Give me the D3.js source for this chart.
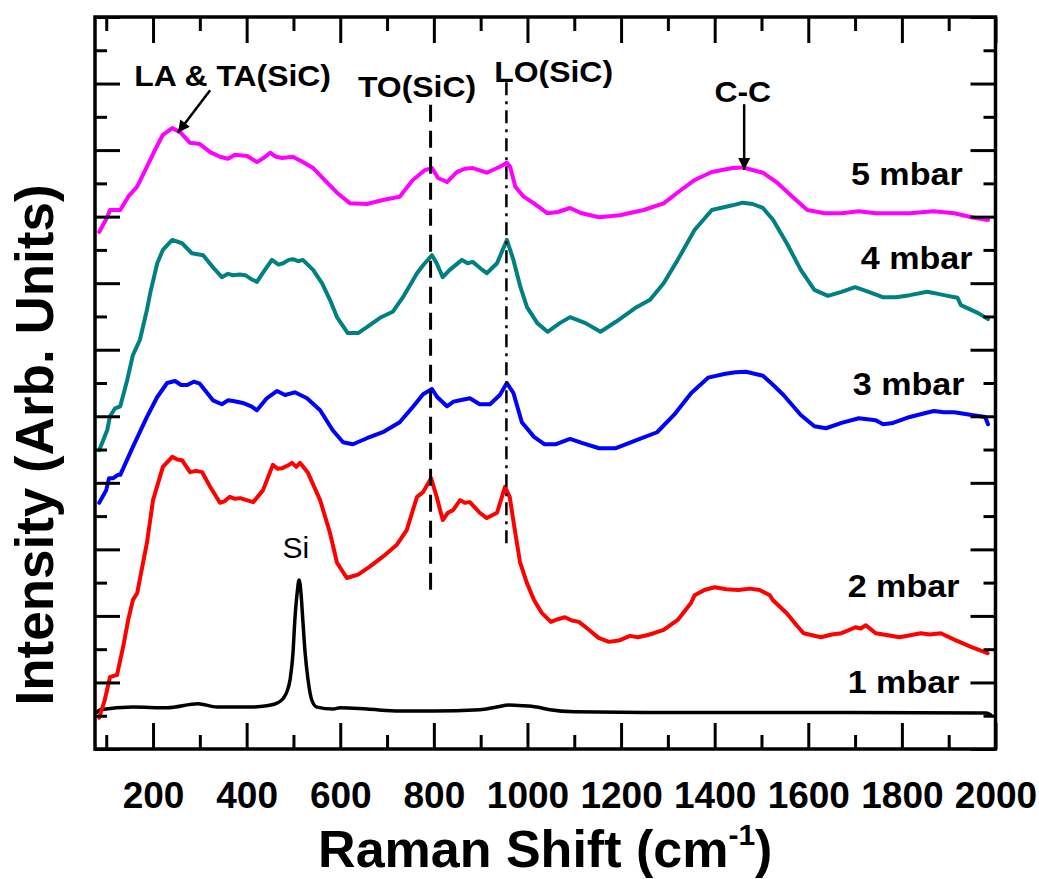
<!DOCTYPE html>
<html>
<head>
<meta charset="utf-8">
<script src="https://cdn.jsdelivr.net/npm/d3@7"></script>
<style>
body { margin: 0; background: #ffffff; }
svg text { font-family: "Liberation Sans", Arial, sans-serif; }
</style>
</head>
<body>
<script>
// Raman spectra, [shift cm-1, intensity (arb.)]
const spec_1mbar = [[80,0.55],[87,0.59],[157,0.63],[230,0.62],[296,0.68],[337,0.63],[407,0.63],[443,0.65],[465,0.69],[478,0.76],[486,0.86],[493,1.05],[499,1.44],[503,1.94],[508,2.35],[512,2.54],[516,2.35],[520,1.94],[525,1.44],[531,1.05],[539,0.74],[550,0.63],[585,0.60],[600,0.62],[657,0.60],[728,0.57],[798,0.57],[898,0.59],[934,0.63],[960,0.66],[990,0.65],[1020,0.63],[1048,0.59],[1100,0.56],[1250,0.55],[1680,0.55],[1980,0.54],[1990,0.51]];

const spec_2mbar = [[85,0.47],[97,0.74],[108,1.08],[116,1.10],[123,1.11],[136,1.53],[147,1.94],[157,2.24],[166,2.34],[187,3.10],[200,3.74],[221,4.24],[241,4.39],[252,4.35],[262,4.34],[279,4.16],[292,4.18],[305,4.16],[322,3.94],[343,3.70],[352,3.72],[364,3.79],[375,3.76],[386,3.77],[400,3.74],[414,3.71],[435,3.89],[456,4.27],[466,4.21],[476,4.22],[488,4.26],[497,4.30],[506,4.24],[514,4.30],[531,4.15],[557,3.74],[578,3.25],[593,2.80],[614,2.57],[628,2.60],[638,2.62],[663,2.74],[691,2.89],[721,3.07],[742,3.29],[764,3.79],[777,3.86],[794,4.07],[806,3.79],[819,3.44],[830,3.55],[841,3.59],[856,3.74],[866,3.70],[877,3.71],[898,3.55],[913,3.47],[935,3.55],[952,3.94],[962,3.79],[973,3.29],[984,2.81],[999,2.49],[1014,2.24],[1030,2.05],[1050,1.91],[1065,1.95],[1080,1.98],[1095,1.93],[1110,1.91],[1130,1.80],[1152,1.67],[1174,1.61],[1195,1.63],[1219,1.70],[1236,1.68],[1255,1.71],[1270,1.74],[1291,1.79],[1321,1.94],[1349,2.19],[1357,2.31],[1378,2.39],[1400,2.43],[1425,2.40],[1451,2.39],[1475,2.41],[1496,2.39],[1518,2.31],[1524,2.24],[1554,2.04],[1575,1.86],[1590,1.74],[1627,1.68],[1650,1.72],[1671,1.74],[1701,1.83],[1712,1.81],[1723,1.86],[1744,1.74],[1770,1.71],[1795,1.68],[1818,1.71],[1840,1.74],[1860,1.72],[1883,1.74],[1913,1.64],[1949,1.53],[1983,1.44]];

const spec_3mbar = [[85,3.70],[100,3.89],[106,4.07],[115,4.07],[125,4.12],[130,4.12],[157,4.54],[187,4.99],[209,5.29],[230,5.50],[247,5.53],[260,5.47],[273,5.47],[287,5.52],[300,5.49],[328,5.24],[347,5.18],[360,5.24],[371,5.23],[392,5.20],[410,5.15],[422,5.09],[443,5.27],[465,5.38],[482,5.32],[503,5.36],[529,5.27],[557,5.09],[584,4.79],[606,4.61],[627,4.58],[657,4.67],[691,4.76],[727,4.91],[755,5.14],[777,5.33],[796,5.41],[807,5.29],[828,5.15],[842,5.22],[856,5.24],[877,5.27],[898,5.18],[920,5.18],[941,5.32],[956,5.50],[970,5.35],[988,4.91],[1014,4.69],[1036,4.58],[1061,4.58],[1091,4.66],[1116,4.60],[1153,4.52],[1189,4.52],[1233,4.64],[1277,4.76],[1313,5.02],[1350,5.35],[1386,5.58],[1423,5.64],[1445,5.66],[1467,5.67],[1485,5.64],[1503,5.61],[1525,5.47],[1547,5.32],[1584,5.02],[1613,4.85],[1638,4.82],[1671,4.90],[1708,4.97],[1744,4.94],[1760,4.88],[1781,4.90],[1817,4.99],[1840,5.03],[1868,5.08],[1890,5.06],[1912,5.06],[1949,5.02],[1978,4.99],[1984,4.88]];

const spec_4mbar = [[85,4.49],[102,4.79],[108,5.00],[119,5.12],[130,5.15],[145,5.55],[157,5.92],[172,6.15],[187,6.60],[194,6.85],[209,7.30],[221,7.50],[241,7.65],[262,7.60],[283,7.45],[307,7.42],[328,7.24],[347,7.09],[360,7.14],[371,7.12],[385,7.13],[397,7.12],[410,7.06],[422,7.02],[439,7.20],[454,7.35],[468,7.28],[478,7.30],[490,7.35],[499,7.36],[510,7.33],[520,7.35],[542,7.20],[561,7.00],[578,6.75],[593,6.49],[616,6.25],[638,6.25],[657,6.34],[685,6.48],[712,6.57],[734,6.79],[764,7.15],[777,7.27],[796,7.42],[806,7.30],[819,7.09],[834,7.20],[860,7.35],[872,7.30],[883,7.32],[900,7.22],[913,7.15],[935,7.30],[956,7.65],[970,7.35],[985,6.94],[999,6.64],[1021,6.40],[1043,6.27],[1069,6.40],[1091,6.49],[1124,6.40],[1156,6.27],[1189,6.42],[1233,6.64],[1262,6.75],[1291,7.00],[1321,7.35],[1357,7.80],[1394,8.10],[1438,8.17],[1460,8.21],[1481,8.19],[1503,8.13],[1525,7.95],[1554,7.60],[1584,7.20],[1613,6.90],[1642,6.81],[1671,6.87],[1700,6.94],[1729,6.87],[1759,6.79],[1788,6.79],[1817,6.82],[1854,6.87],[1870,6.85],[1890,6.82],[1919,6.78],[1926,6.67],[1963,6.55],[1984,6.46]];

const spec_5mbar = [[85,7.77],[102,7.99],[108,8.10],[115,8.10],[130,8.10],[147,8.30],[166,8.45],[187,8.75],[204,9.00],[221,9.23],[241,9.33],[258,9.27],[279,9.11],[300,9.09],[322,8.97],[343,8.90],[360,8.87],[375,8.93],[401,8.91],[422,8.82],[440,8.90],[450,8.96],[463,8.90],[476,8.88],[499,8.90],[520,8.82],[542,8.73],[567,8.55],[593,8.36],[621,8.20],[657,8.19],[691,8.25],[727,8.30],[755,8.55],[781,8.70],[796,8.73],[809,8.58],[828,8.52],[849,8.67],[866,8.72],[883,8.73],[913,8.66],[941,8.75],[956,8.81],[963,8.75],[974,8.45],[992,8.30],[1014,8.20],[1043,8.05],[1065,8.07],[1091,8.13],[1116,8.05],[1153,7.99],[1197,8.02],[1248,8.10],[1291,8.20],[1328,8.40],[1357,8.55],[1394,8.67],[1438,8.73],[1460,8.74],[1481,8.70],[1503,8.66],[1532,8.52],[1569,8.28],[1598,8.10],[1635,8.05],[1671,8.05],[1708,8.08],[1744,8.05],[1781,8.05],[1817,8.05],[1868,8.08],[1912,8.05],[1949,7.99],[1984,7.95]];

const series_list = [spec_1mbar, spec_2mbar, spec_3mbar, spec_4mbar, spec_5mbar];
const series_names = ["1 mbar", "2 mbar", "3 mbar", "4 mbar", "5 mbar"];

// axis ticks
const x_major_ticks = [200, 400, 600, 800, 1000, 1200, 1400, 1600, 1800, 2000];
const x_minor_ticks = [100, 300, 500, 700, 900, 1100, 1300, 1500, 1700, 1900];
const y_major_ticks = [0, 1, 2, 3, 4, 5, 6, 7, 8, 9, 10, 11];
const y_minor_ticks = [0.5, 1.5, 2.5, 3.5, 4.5, 5.5, 6.5, 7.5, 8.5, 9.5, 10.5];

// mode positions (cm-1)
const peak_TO = 793;
const peak_LO = 955;
const peak_CC = 1463;


class RamanChart {
    constructor(width = 1039, height = 879) {
        this.total_width = width;
        this.total_height = height;
        this.margin = { top: 17, right: 43.5, bottom: 130, left: 95 };
        this.graph_width = this.total_width - this.margin.left - this.margin.right;
        this.graph_height = this.total_height - this.margin.top - this.margin.bottom;
        this.colors = ["#000000", "#ff0000", "#0000ff", "#008080", "#ff00ff"];
        this.svg_container = null;
        this.inner_graph = null;
    }

    construct_svg(self = this) {
        self.svg_container = d3.select("body").append("svg")
            .attr("width", self.total_width)
            .attr("height", self.total_height);
        self.svg_container.append("rect")
            .attr("width", self.total_width)
            .attr("height", self.total_height)
            .attr("fill", "#ffffff");
        self.inner_graph = self.svg_container.append("g")
            .attr("transform", "translate(" + self.margin.left + "," + self.margin.top + ")");

        var defs = self.svg_container.append("defs");
        defs.append("marker")
            .attr("id", "head")
            .attr("viewBox", "0 0 10 10")
            .attr("refX", 10).attr("refY", 5)
            .attr("markerWidth", 17).attr("markerHeight", 12)
            .attr("markerUnits", "userSpaceOnUse")
            .attr("orient", "auto")
            .append("path")
            .attr("d", "M0,0 L10,5 L0,10 Z")
            .attr("fill", "#000");
    }

    construct_scales(self = this) {
        self.x = d3.scaleLinear().domain([76, 2000]).range([0, self.graph_width]);
        self.y = d3.scaleLinear().domain([0, 11]).range([self.graph_height, 0]);
    }

    style_axis(g) {
        g.select(".domain").remove();
        g.selectAll(".tick line").attr("stroke", "#000").attr("stroke-width", 3);
    }

    construct_axes(self = this) {
        var x = self.x, y = self.y, g = self.inner_graph;
        var h = self.graph_height, w = self.graph_width;

        var bottom = g.append("g").attr("class", "x_axis")
            .attr("transform", "translate(0," + h + ")")
            .call(d3.axisBottom(x).tickValues(x_major_ticks).tickFormat(d3.format("d"))
                .tickSizeInner(-26).tickSizeOuter(0).tickPadding(33));
        self.style_axis(bottom);
        bottom.selectAll("text")
            .attr("font-size", 37).attr("font-weight", "bold").attr("fill", "#000");

        g.append("g").attr("transform", "translate(0," + h + ")")
            .call(d3.axisBottom(x).tickValues(x_minor_ticks).tickSizeInner(-14).tickSizeOuter(0).tickFormat(""))
            .call(self.style_axis);

        g.append("g")
            .call(d3.axisTop(x).tickValues(x_major_ticks).tickSizeInner(-26).tickSizeOuter(0).tickFormat(""))
            .call(self.style_axis);
        g.append("g")
            .call(d3.axisTop(x).tickValues(x_minor_ticks).tickSizeInner(-14).tickSizeOuter(0).tickFormat(""))
            .call(self.style_axis);

        g.append("g")
            .call(d3.axisLeft(y).tickValues(y_major_ticks).tickSizeInner(-25).tickSizeOuter(0).tickFormat(""))
            .call(self.style_axis);
        g.append("g")
            .call(d3.axisLeft(y).tickValues(y_minor_ticks).tickSizeInner(-12).tickSizeOuter(0).tickFormat(""))
            .call(self.style_axis);

        g.append("g").attr("transform", "translate(" + w + ",0)")
            .call(d3.axisRight(y).tickValues(y_major_ticks).tickSizeInner(-25).tickSizeOuter(0).tickFormat(""))
            .call(self.style_axis);
        g.append("g").attr("transform", "translate(" + w + ",0)")
            .call(d3.axisRight(y).tickValues(y_minor_ticks).tickSizeInner(-12).tickSizeOuter(0).tickFormat(""))
            .call(self.style_axis);

        // frame
        g.append("rect")
            .attr("width", w).attr("height", h)
            .attr("fill", "none").attr("stroke", "#000").attr("stroke-width", 3.5);

        // axis titles
        var xt = self.svg_container.append("text")
            .attr("x", self.margin.left + w / 2).attr("y", 867)
            .attr("text-anchor", "middle")
            .attr("font-size", 52).attr("font-weight", "bold");
        xt.append("tspan").text("Raman Shift (cm");
        xt.append("tspan").attr("font-size", 30).attr("dy", -22).text("-1");
        xt.append("tspan").attr("dy", 22).text(")");

        self.svg_container.append("text")
            .attr("transform", "translate(53,445) rotate(-90)")
            .attr("text-anchor", "middle")
            .attr("font-size", 53).attr("font-weight", "bold")
            .text("Intensity (Arb. Units)");
    }

    construct_lines(self = this) {
        var x = self.x, y = self.y;
        var smooth = d3.line().x(d => x(d[0])).y(d => y(d[1])).curve(d3.curveMonotoneX);
        var raw = d3.line().x(d => x(d[0])).y(d => y(d[1]));
        self.inner_graph.selectAll(".spectrum")
            .data(series_list)
            .enter().append("path")
            .attr("class", "spectrum")
            .attr("d", (d, i) => i == 0 ? smooth(d) : raw(d))
            .attr("fill", "none")
            .attr("stroke", (d, i) => self.colors[i])
            .attr("stroke-width", (d, i) => i == 0 ? 3.5 : 4)
            .attr("stroke-linejoin", "round")
            .attr("stroke-linecap", "round");
    }

    label(txt, cx, cy, size, anchor, sx = 1.1, weight = "bold") {
        this.inner_graph.append("text")
            .attr("transform", "translate(" + this.x(cx) + "," + this.y(cy) + ") scale(" + sx + ",1)")
            .attr("text-anchor", anchor)
            .attr("font-size", size).attr("font-weight", weight)
            .attr("fill", "#000")
            .text(txt);
    }

    construct_annotations(self = this) {
        var x = self.x, y = self.y, g = self.inner_graph;

        // series names on the right
        var name_pos = [[1923, 0.84], [1923, 2.28], [1934, 5.32], [1951, 7.22], [1930, 8.48]];
        series_names.forEach((n, i) => self.label(n, name_pos[i][0], name_pos[i][1], 31, "end"));

        // mode guides
        g.append("line")
            .attr("x1", x(peak_TO)).attr("x2", x(peak_TO))
            .attr("y1", y(9.68)).attr("y2", y(2.31))
            .attr("stroke", "#000").attr("stroke-width", 3)
            .attr("stroke-dasharray", "17,9");
        g.append("line")
            .attr("x1", x(peak_LO)).attr("x2", x(peak_LO))
            .attr("y1", y(10.02)).attr("y2", y(3.02))
            .attr("stroke", "#000").attr("stroke-width", 2.5)
            .attr("stroke-dasharray", "13,6,3,6");

        self.label("LA & TA(SiC)", 370, 9.96, 29, "middle");
        self.label("TO(SiC)", 764, 9.8, 29, "middle");
        self.label("LO(SiC)", 1056, 10.03, 29, "middle");
        self.label("C-C", 1460, 9.73, 29, "middle");
        self.label("Si", 505, 2.87, 30, "middle", 1.0, "normal");

        // arrows
        g.append("line")
            .attr("x1", x(322)).attr("y1", y(9.9))
            .attr("x2", x(253)).attr("y2", y(9.26))
            .attr("stroke", "#000").attr("stroke-width", 2.5)
            .attr("marker-end", "url(#head)");
        g.append("line")
            .attr("x1", x(peak_CC)).attr("y1", y(9.69))
            .attr("x2", x(peak_CC)).attr("y2", y(8.7))
            .attr("stroke", "#000").attr("stroke-width", 2.5)
            .attr("marker-end", "url(#head)");
    }

    draw(self = this) {
        self.construct_svg();
        self.construct_scales();
        self.construct_lines();
        self.construct_axes();
        self.construct_annotations();
    }
}

new RamanChart().draw();
</script>
</body>
</html>
